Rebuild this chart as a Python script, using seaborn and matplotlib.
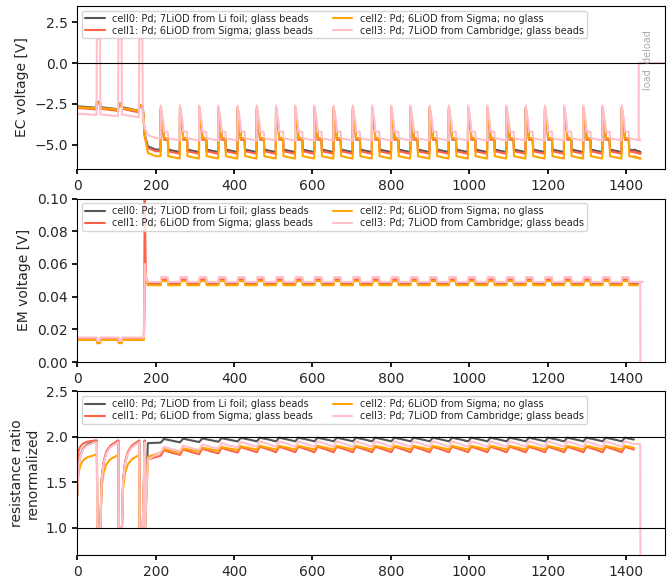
import numpy as np
import matplotlib
matplotlib.use("Agg")
import matplotlib.pyplot as plt
import seaborn as sns
import pandas as pd

# ── data ──
cells = ["cell0: Pd; 7LiOD from Li foil; glass beads",
         "cell1: Pd; 6LiOD from Sigma; glass beads",
         "cell2: Pd; 6LiOD from Sigma; no glass",
         "cell3: Pd; 7LiOD from Cambridge; glass beads"]
colors = ["#555555", "tomato", "orange", "pink"]

early_pulses = [50, 105, 158]          # pulses before loading starts
pulse_starts = [213, 262, 311, 360, 409, 458, 507, 556, 605, 654, 703, 752,
                801, 850, 899, 948, 997, 1046, 1095, 1144, 1193, 1242, 1291,
                1340, 1389]
end_time = [1420, 1420, 1420, 1432]

# EC voltage levels per cell
ec_early = [-2.65, -2.75, -2.7, -3.1]
ec_early_end = [-2.95, -3.05, -2.95, -3.35]
ec_peak = [-2.8, -2.8, -2.7, -2.6]
ec_mid = [-4.6, -4.7, -4.6, -4.2]
ec_low = [-5.3, -5.4, -5.7, -4.6]

# EM voltage levels
em_early = [0.014, 0.0145, 0.0135, 0.015]
em_base = [0.048, 0.0485, 0.047, 0.049]
em_bump = [0.050, 0.0505, 0.0495, 0.052]

# resistance ratio levels
r_early_top = [1.95, 1.96, 1.80, 1.94]
r_late = [1.97, 1.86, 1.88, 1.92]
r_late_start = [1.93, 1.75, 1.78, 1.75]
r_ripple = [0.02, 0.03, 0.02, 0.03]
recovery = [0.0, 0.55, 0.75, 0.87, 0.94, 1.0]   # fractional recovery shape
recovery_dt = [0, 3, 8, 15, 25, 45]


def ec_series(c):
    t, v = [0], [ec_early[c]]
    for p in early_pulses:
        frac = p / 175
        lvl = ec_early[c] + (ec_early_end[c] - ec_early[c]) * frac
        t += [p - 1, p, p + 8, p + 9]
        hi = 1.5 if c == 3 else lvl + 0.35
        v += [lvl, hi, hi, ec_early[c] - 0.05]
    t += [168, 172, 180, 200]
    v += [ec_early_end[c], ec_mid[c] + 0.2, ec_low[c] + 0.2, ec_low[c]]
    for s in pulse_starts:
        t += [s - 0.5, s, s + 7, s + 8, s + 18, s + 19, s + 48]
        v += [ec_low[c], ec_peak[c], ec_mid[c] + 0.5, ec_mid[c], ec_mid[c],
              ec_low[c], ec_low[c] - 0.15]
    t += [end_time[c]]
    v += [ec_low[c]]
    if c == 3:
        t += [end_time[c] + 0.5, 1500]
        v += [0.0, 0.0]
    return t, v


def em_series(c):
    t, v = [0], [em_early[c]]
    for p in early_pulses[:2]:
        t += [p, p + 1, p + 8, p + 9]
        v += [em_early[c], em_early[c] - 0.002, em_early[c] - 0.002, em_early[c]]
    t += [170, 172, 175, 180]
    v += [em_early[c], 0.1 if c == 1 else 0.06, 0.052, em_base[c]]
    for s in pulse_starts:
        t += [s, s + 1, s + 18, s + 19]
        v += [em_base[c], em_bump[c], em_bump[c], em_base[c]]
    t += [end_time[c] + 10]
    v += [em_base[c]]
    if c == 3:
        t += [1436, 1436.5]
        v += [em_base[c], 0.0]
    return t, v


def r_series(c):
    t, v = [], []
    starts = [0] + [p + 9 for p in early_pulses]
    ends = [p for p in early_pulses] + [172]
    lo = 1.35 if c != 1 else 1.7
    for a, b in zip(starts, ends):
        for f, dt in zip(recovery, recovery_dt):
            if a + dt < b:
                t.append(a + dt)
                v.append(lo + (r_early_top[c] - lo) * f if a == 0 else
                         1.0 + (r_early_top[c] - 1.0) * f)
        t += [b, b + 1]
        v += [r_early_top[c], 1.0]
        lo = 1.0
    t += [180]
    v += [r_late_start[c]]
    for s in pulse_starts:
        k = min(1.0, (s - 180) / 250)
        lvl = r_late_start[c] + (r_late[c] - r_late_start[c]) * (0.6 + 0.4 * k)
        t += [s, s + 8, s + 30]
        v += [lvl - r_ripple[c], lvl + r_ripple[c], lvl]
    t += [end_time[c]]
    v += [r_late[c]]
    if c == 3:
        t += [1436, 1436.5]
        v += [r_late[c], 0.7]
    return t, v


sns.set_theme(style="white")
plt.rcParams["font.family"] = ["DejaVu Sans"]
plt.rcParams["xtick.bottom"] = True
plt.rcParams["ytick.left"] = True
plt.rcParams["xtick.major.size"] = 3.5
plt.rcParams["ytick.major.size"] = 3.5

fig, axes = plt.subplots(3, 1, figsize=(6.72, 5.84), dpi=100)
builders = [ec_series, em_series, r_series]
ylabels = ["EC voltage [V]", "EM voltage [V]", "resistance ratio\nrenormalized"]
ylims = [(-6.5, 3.5), (0, 0.1), (0.7, 2.5)]
yticks = [[-5.0, -2.5, 0.0, 2.5], [0, 0.02, 0.04, 0.06, 0.08, 0.10],
          [1.0, 1.5, 2.0, 2.5]]

for ax, build, yl, lim, yt in zip(axes, builders, ylabels, ylims, yticks):
    for c in range(4):
        t, v = build(c)
        df = pd.DataFrame({"t": t, "v": v})
        sns.lineplot(data=df, x="t", y="v", ax=ax, color=colors[c],
                     label=cells[c], linewidth=1.5, sort=False, estimator=None)
    ax.set_xlim(0, 1500)
    ax.set_ylim(*lim)
    ax.set_yticks(yt)
    ax.set_xlabel("")
    ax.set_ylabel(yl, fontsize=10)
    ax.tick_params(labelsize=10, color="black")
    for sp in ax.spines.values():
        sp.set_color("black")
        sp.set_linewidth(0.8)
    ax.legend(ncol=2, fontsize=7, loc="upper left", handlelength=2,
              borderpad=0.3, labelspacing=0.2, columnspacing=2.0)

axes[0].axhline(0, color="black", linewidth=0.8)
axes[0].text(1455, 0.2, "load  deload", rotation=90, color="#aaaaaa",
             fontsize=7, ha="center", va="center")
axes[1].set_yticklabels(["0.00", "0.02", "0.04", "0.06", "0.08", "0.10"])
axes[2].axhline(2.0, color="black", linewidth=0.8)
axes[2].axhline(1.0, color="black", linewidth=0.8)

plt.subplots_adjust(left=0.115, right=0.99, top=0.99, bottom=0.05, hspace=0.18)
fig.savefig("out.png", dpi=100)
